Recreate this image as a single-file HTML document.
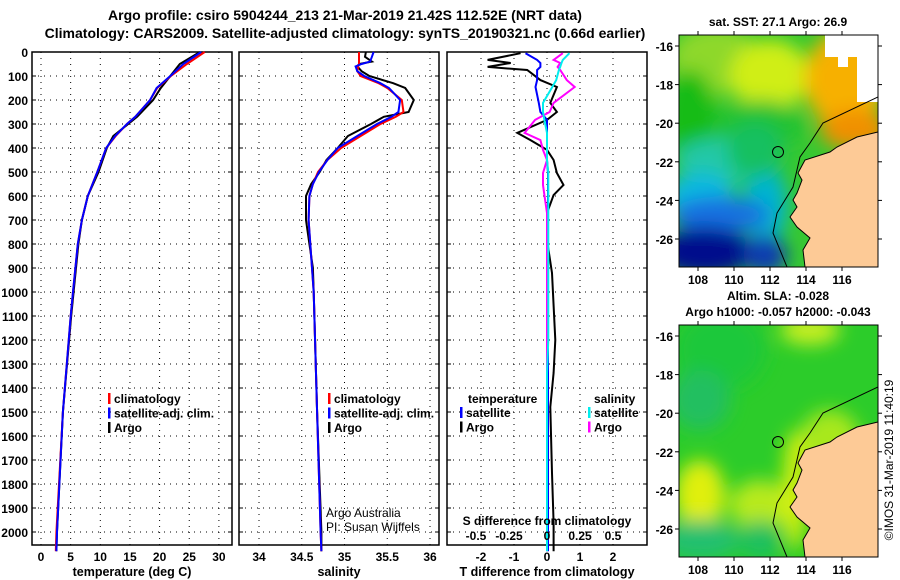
<!DOCTYPE html>
<html><head><meta charset="utf-8"><style>
body{margin:0;background:#fff;}
svg{display:block;font-family:"Liberation Sans",sans-serif;font-weight:bold;}
</style></head><body>
<svg id="c" width="900" height="580" viewBox="0 0 900 580">
<defs>
<filter id="bl" x="-20%" y="-20%" width="140%" height="140%"><feGaussianBlur stdDeviation="9"/></filter>
<clipPath id="m1"><rect x="679" y="35" width="199" height="232"/></clipPath>
<clipPath id="m2"><rect x="679" y="325" width="199" height="232"/></clipPath>
</defs>
<text x="345" y="20" font-size="14" text-anchor="middle">Argo profile: csiro 5904244_213 21-Mar-2019 21.42S 112.52E (NRT data)</text>
<text x="345" y="38" font-size="14" text-anchor="middle">Climatology: CARS2009. Satellite-adjusted climatology: synTS_20190321.nc (0.66d earlier)</text>
<g id="panels"></g>
<g id="maps"></g>
</svg>
<script>
// ---- data ----
const depthT = [0,50,100,150,200,270,300,350,400,500,600,700,800,900,1000,1100,1500,2000,2080];
const tempArgo = [26.8,23.4,21.8,20.2,18.9,16.2,14.7,12.2,11.1,9.7,7.9,6.9,6.3,5.9,5.5,5.1,3.7,2.7,2.6];
const tempClim = [27.6,24.6,21.9,19.6,18.4,15.9,14.5,12.6,11.0,9.5,7.9,6.9,6.2,5.8,5.4,5.0,3.7,2.6,2.5];
const tempSat  = [27.0,24.0,21.8,19.5,18.4,15.9,14.5,12.5,11.0,9.5,7.9,6.9,6.2,5.8,5.4,5.0,3.7,2.7,2.6];
const depthS = [0,20,40,50,60,80,100,130,150,200,250,270,300,350,400,450,500,550,600,700,800,900,1000,1500,2000,2080];
const salArgo = [35.25,35.24,35.32,35.17,35.15,35.2,35.29,35.57,35.71,35.81,35.75,35.46,35.31,35.04,34.92,34.79,34.71,34.61,34.55,34.55,34.59,34.63,34.64,34.68,34.73,34.73];
const salClim = [35.17,35.17,35.17,35.17,35.16,35.15,35.19,35.4,35.5,35.67,35.69,35.6,35.42,35.19,34.96,34.8,34.69,34.63,34.59,34.58,34.6,34.62,34.64,34.68,34.72,34.73];
const salSat  = [35.34,35.32,35.3,35.2,35.13,35.15,35.23,35.42,35.52,35.65,35.63,35.55,35.38,35.15,34.92,34.8,34.7,34.63,34.59,34.58,34.6,34.62,34.64,34.68,34.72,34.73];
const depthD = [5,33,46,62,75,117,146,212,250,283,337,367,408,450,504,554,596,671,783,921,1200,1337,1479,1754,1962,2080];
const dTArgo = [-0.8,-1.8,-1.1,-1.8,-0.6,-0.2,0.3,0.1,0.3,0,-0.9,-0.5,0,0.2,0.3,0.5,0.2,0,0,0.15,0.25,0.2,0.1,0.15,0.2,0.2];
const dTSat  = [-0.65,-0.3,-0.2,-0.2,-0.3,-0.3,-0.35,-0.25,-0.2,0,0,0,0,0,0.03,0.03,0.03,0.03,0.03,0.03,0.03,0.03,0.03,0.03,0.03,0.03];
const dSArgo = [0.12,0.05,0.1,0.08,0.1,0.15,0.21,0.05,0.02,-0.09,-0.17,-0.05,-0.03,0,-0.03,-0.03,-0.02,0,0,0,0,0,0,0,0,0];
const dSSat  = [0.17,0.12,0.11,0.1,0.09,0.07,0.04,-0.03,-0.03,-0.02,0,0,0,0,0.01,0.01,0.01,0.01,0.01,0.01,0.01,0,0,0,0,0];
const depthTicks = [0,100,200,300,400,500,600,700,800,900,1000,1100,1200,1300,1400,1500,1600,1700,1800,1900,2000];
const tTicks = [0,5,10,15,20,25,30];
const sTicks = [34,34.5,35,35.5,36];
const dTicks = [-2,-1,0,1,2];
const dSTicks = [-0.5,-0.25,0,0.25,0.5];
const dSTickLabels = ['-0.5','-0.25','0','0.25','0.5'];

const NS='http://www.w3.org/2000/svg';
function mk(tag,attrs,parent){const e=document.createElementNS(NS,tag);for(const k in attrs)e.setAttribute(k,attrs[k]);parent.appendChild(e);return e;}
const P=document.getElementById('panels');
const yD = d => 52 + d*0.24;
const Y0=52, Y1=545;
const xT = t => 41 + t*5.93;
const xS = s => 259 + (s-34)*85.5;
const xDT = v => 547 + v*33;
const xDS = v => 547 + v*132;

function panel(x0,x1,ticks,xf,labels,title,name,showDepth){
  const g=mk('g',{},P);
  
  
  depthTicks.forEach(d=>{
    if(d>0) mk('line',{x1:x0,x2:x1,y1:yD(d),y2:yD(d),stroke:'#000','stroke-width':1,'stroke-dasharray':'1 5'},g);
    mk('line',{x1:x0,x2:x0+4,y1:yD(d),y2:yD(d),stroke:'#000'},g);
    mk('line',{x1:x1-4,x2:x1,y1:yD(d),y2:yD(d),stroke:'#000'},g);
    if(showDepth){const t=mk('text',{x:28,y:yD(d)+5,'font-size':12,'text-anchor':'end'},g);t.textContent=d;
      
      }
  });
  ticks.forEach((v,i)=>{
    const x=xf(v);
    mk('line',{x1:x,x2:x,y1:Y0,y2:Y1,stroke:'#000','stroke-dasharray':'1 5'},g);
    const t=mk('text',{x:x,y:561,'font-size':12,'text-anchor':'middle'},g);t.textContent=labels?labels[i]:v;
    
    
  });
  mk('rect',{x:x0,y:Y0,width:x1-x0,height:Y1-Y0,fill:'none',stroke:'#000','stroke-width':1.5},g);
  const tt=mk('text',{x:(x0+x1)/2,y:576,'font-size':12.5,'text-anchor':'middle'},g);tt.textContent=title;
  
  
  return g;
}
function line(g,ds,vs,xf,col,name,w){
  const pts=ds.map((d,i)=>xf(vs[i]).toFixed(1)+','+yD(d).toFixed(1)).join(' ');
  const p=mk('polyline',{points:pts,fill:'none',stroke:col,'stroke-width':w||2},g);
  
  
}
function legend(g,x,y,items){
  items.forEach((it,i)=>{
    mk('rect',{x:x,y:y+i*14.5-10,width:2.5,height:11,fill:it[1]},g);
    const t=mk('text',{x:x+6,y:y+i*14.5,'font-size':12},g);t.textContent=it[0];
    
    
  });
}
const g1=panel(32,232,tTicks,xT,null,'temperature (deg C)','temperature-panel',true);
line(g1,depthT,tempArgo,xT,'#000','temp-argo-line');
line(g1,depthT,tempClim,xT,'#f00','temp-clim-line');
line(g1,depthT,tempSat,xT,'#00f','temp-sat-line');
legend(g1,108,403,[['climatology','#f00'],['satellite-adj. clim.','#00f'],['Argo','#000']]);

const g2=panel(239,439,sTicks,xS,null,'salinity','salinity-panel',false);
line(g2,depthS,salArgo,xS,'#000','sal-argo-line');
line(g2,depthS,salClim,xS,'#f00','sal-clim-line');
line(g2,depthS,salSat,xS,'#00f','sal-sat-line');
legend(g2,328,403,[['climatology','#f00'],['satellite-adj. clim.','#00f'],['Argo','#000']]);
[['Argo Australia',517],['PI: Susan Wijffels',531]].forEach(a=>{const t=mk('text',{x:326,y:a[1],'font-size':12,'font-weight':'normal'},g2);t.textContent=a[0];
  
  });

const g3=panel(447,647,dTicks,xDT,null,'T difference from climatology','difference-panel',false);
line(g3,depthD,dTArgo,xDT,'#000','tdiff-argo-line');
line(g3,depthD,dTSat,xDT,'#00f','tdiff-sat-line');
line(g3,depthD,dSArgo,xDS,'#f0f','sdiff-argo-line');
line(g3,depthD,dSSat,xDS,'#0ee','sdiff-sat-line');
{const t=mk('text',{x:468,y:403,'font-size':12},g3);t.textContent='temperature';
 
 }
{const t=mk('text',{x:594,y:403,'font-size':12},g3);t.textContent='salinity';
 
 }
legend(g3,460,417,[['satellite','#00f'],['Argo','#000']]);
legend(g3,588,417,[['satellite','#0ee'],['Argo','#f0f']]);
{const t=mk('text',{x:547,y:525,'font-size':12,'text-anchor':'middle'},g3);t.textContent='S difference from climatology';
 
 }
dSTicks.forEach((v,i)=>{const t=mk('text',{x:xDS(v)-(v<0?5:0),y:540,'font-size':12,'text-anchor':'middle'},g3);t.textContent=dSTickLabels[i];
 
 });

// ---- maps ----
const M=document.getElementById('maps');
const lonTicks=[108,110,112,114,116];
const latTicks=[-16,-18,-20,-22,-24,-26];
const xLon = l => 698 + (l-108)*18;
const land=[[878,132],[857,137],[837,147],[830,152],[805,160],[798,173],[802,180],[797,193],[793,200],[797,207],[790,217],[797,227],[810,238],[803,250],[805,267],[878,267]];
const shelf=[[878,97],[823,123],[810,143],[800,157],[793,187],[777,213],[773,233],[787,267]];
function map(off,name,clip,blobs,base,extra){
  const g=mk('g',{},M);
  
  
  const yLat = l => 46+off + (-16-l)*19.3;
  const c=mk('g',{'clip-path':'url(#'+clip+')'},g);
  mk('rect',{x:679,y:35+off,width:199,height:232,fill:base},c);
  const b=mk('g',{filter:'url(#bl)'},c);
  blobs.forEach(q=>mk('ellipse',{cx:q[0],cy:q[1]+off,rx:q[2],ry:q[3],fill:q[4]},b));
  if(extra) extra(c,off);
  mk('polygon',{points:land.map(p=>p[0]+','+(p[1]+off)).join(' '),fill:'#fdca96',stroke:'#000','stroke-width':1},c);
  mk('polyline',{points:shelf.map(p=>p[0]+','+(p[1]+off)).join(' '),fill:'none',stroke:'#000','stroke-width':1},c);
  const ci=mk('circle',{cx:778,cy:152+off,r:5.5,fill:'none',stroke:'#000','stroke-width':1},g);
  
  
  mk('rect',{x:679,y:35+off,width:199,height:232,fill:'none',stroke:'#000'},g);
  lonTicks.forEach(l=>{const x=xLon(l);
    mk('line',{x1:x,x2:x,y1:35+off,y2:31+off,stroke:'#000'},g);
    mk('line',{x1:x,x2:x,y1:267+off,y2:271+off,stroke:'#000'},g);
    const t=mk('text',{x:x,y:284+off,'font-size':12,'text-anchor':'middle'},g);t.textContent=l;
    
    });
  latTicks.forEach(l=>{const y=yLat(l);
    mk('line',{x1:675,x2:679,y1:y,y2:y,stroke:'#000'},g);
    mk('line',{x1:878,x2:882,y1:y,y2:y,stroke:'#000'},g);
    const t=mk('text',{x:673,y:y+5,'font-size':12,'text-anchor':'end'},g);t.textContent=l;
    
    });
  return g;
}
map(0,'sst-map','m1',[
  [715,60,45,35,'#8ed82a'],[770,75,40,35,'#d0ee14'],[690,115,25,45,'#12bc18'],
  [760,125,45,25,'#22c230'],[845,80,40,50,'#f7b000'],[855,130,35,20,'#f09000'],
  [725,160,50,22,'#22c8a8'],[700,195,35,22,'#10b8e0'],[765,205,22,40,'#00b4d0'],
  [720,215,50,18,'#1870e0'],[705,252,50,25,'#06108c'],[765,255,22,20,'#0a3ab0'],[755,150,28,28,'#18c060']
],'#36c832',function(c,off){
  [[825,35,53,22],[857,57,21,45],[838,57,10,10]].forEach(r=>mk('rect',{x:r[0],y:r[1]+off,width:r[2],height:r[3],fill:'#fff'},c));
});
map(290,'sla-map','m2',[
  [720,60,45,40,'#1ec83a'],[810,40,30,15,'#c8ef20'],[700,110,30,30,'#24bf60'],
  [700,205,25,35,'#e0ef10'],[760,215,30,25,'#b8ea1a'],[830,150,30,30,'#a8e81a'],
  [700,250,40,20,'#20c070'],[760,250,20,20,'#1cc060'],[795,200,12,60,'#d6f010']
],'#2ccc2a');
[['sat. SST: 27.1  Argo: 26.9',26],['Altim. SLA: -0.028',300],['Argo h1000: -0.057  h2000: -0.043',316]].forEach(a=>{
  const t=mk('text',{x:778,y:a[1],'font-size':12,'text-anchor':'middle'},M);t.textContent=a[0];
  
  });
{const t=mk('text',{x:0,y:0,'font-size':12,'font-weight':'normal','text-anchor':'middle',transform:'translate(893,460) rotate(-90)'},M);t.textContent='©IMOS 31-Mar-2019 11:40:19';
 
 }
</script>
</body></html>
